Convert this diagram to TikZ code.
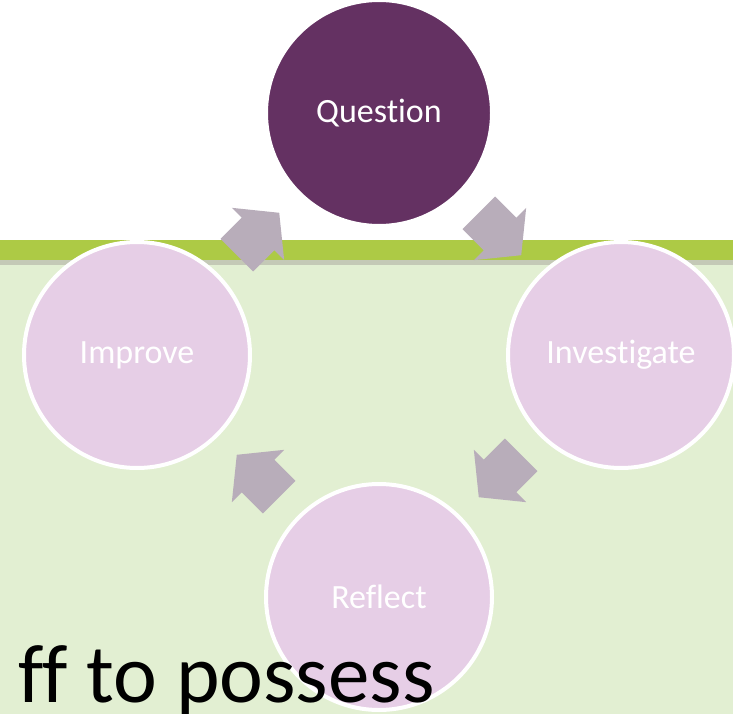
\documentclass[tikz,border=0pt]{standalone}
\usepackage{fontspec}
\setmainfont{Carlito}[Ligatures=NoCommon]
\usetikzlibrary{calc}
\definecolor{qpurple}{HTML}{643162}
\definecolor{lpink}{HTML}{E6CEE6}
\definecolor{arrowc}{HTML}{B8ADBA}
\definecolor{barg}{HTML}{ADCA45}
\definecolor{lgreen}{HTML}{E2EFD2}
\definecolor{greystrip}{HTML}{C4C9B6}
\tikzset{
 stage/.style={circle, minimum size=226pt, inner sep=0pt, draw=white, line width=4pt, fill=lpink, text=white, font=\fontsize{34}{40}\selectfont},
 cyc/.pic={\fill[arrowc] (-30,-23) -- (0,-23) -- (0,-37) -- (30,0) -- (0,37) -- (0,23) -- (-30,23) -- cycle;}
}
\begin{document}
\begin{tikzpicture}[x=1pt,y=-1pt]
\useasboundingbox (0,0) rectangle (733,714);
\fill[white] (0,0) rectangle (733,714);
\fill[lgreen] (0,260) rectangle (733,714);
\fill[greystrip] (0,259) rectangle (733,265);
\fill[barg] (0,240) rectangle (733,260);
\node[stage, fill=qpurple] (q) at (379,113) {Question};
\node[stage] (inv) at (621,355) {Investigate};
\node[stage] (ref) at (379,597) {Reflect};
\node[stage] (imp) at (137,355) {Improve};
\foreach \a/\b in {imp/q, q/inv, inv/ref, ref/imp}
  \path let \p1=($(\b)-(\a)$), \n1={atan2(\y1,\x1)} in pic[rotate=\n1] at ($(\a)!0.5!(\b)$) {cyc};
\node[anchor=base east, inner sep=0pt, font=\fontsize{83}{90}\selectfont] (txt) at (435,702) {ff to possess};
\end{tikzpicture}
\end{document}
